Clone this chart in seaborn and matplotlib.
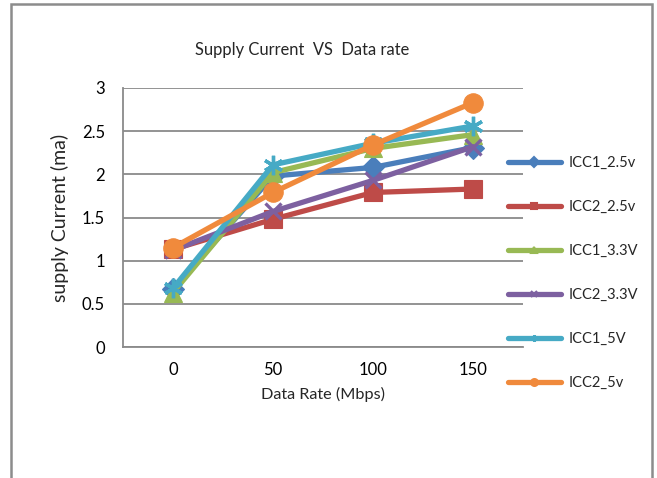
import matplotlib
matplotlib.use("Agg")
import matplotlib.pyplot as plt
import seaborn as sns
import pandas as pd
from matplotlib.lines import Line2D
from matplotlib.patches import Rectangle

# ---- data ----
data_rates = ["0", "50", "100", "150"]
series_names = ["ICC1_2.5v", "ICC2_2.5v", "ICC1_3.3V", "ICC2_3.3V", "ICC1_5V", "ICC2_5v"]
icc1_25 = [0.67, 1.98, 2.08, 2.31]
icc2_25 = [1.13, 1.48, 1.79, 1.83]
icc1_33 = [0.63, 2.02, 2.30, 2.46]
icc2_33 = [1.12, 1.57, 1.93, 2.32]
icc1_5 = [0.68, 2.11, 2.36, 2.56]
icc2_5 = [1.15, 1.79, 2.34, 2.83]
y_ticks = [0, 0.5, 1, 1.5, 2, 2.5, 3]
y_tick_labels = ["0", "0.5", "1", "1.5", "2", "2.5", "3"]

values = [icc1_25, icc2_25, icc1_33, icc2_33, icc1_5, icc2_5]
colors = ["#4A7EBB", "#BE4B48", "#98B954", "#7D60A0", "#46AAC5", "#F08A3C"]
markers = ["D", "s", "^", "x", (6, 2, 0), "o"]
msizes = [11, 13.5, 13, 11, 14, 14]

rows = []
for name, vals in zip(series_names, values):
    for x, v in zip(data_rates, vals):
        rows.append({"rate": x, "current": v, "series": name})
df = pd.DataFrame(rows)

sns.set_theme(style="white")
plt.rcParams["font.family"] = ["Lato", "DejaVu Sans"]

fig = plt.figure(figsize=(6.57, 4.78), dpi=100)
ax = fig.add_axes([123 / 657, 1 - 347 / 478, 400 / 657, 259 / 478])

for name, c, m, ms in zip(series_names, colors, markers, msizes):
    sub = df[df["series"] == name]
    sns.lineplot(data=sub, x="rate", y="current", ax=ax, color=c, marker=m,
                 markersize=ms, markeredgewidth=2.4 if m in ("x", (6, 2, 0)) else 0.8,
                 markeredgecolor=c, linewidth=3.8, sort=False, legend=False,
                 errorbar=None)

ax.set_xlim(-0.5, 3.5)
ax.set_ylim(0, 3)
ax.set_yticks(y_ticks)
ax.set_yticklabels(y_tick_labels)
ax.yaxis.grid(True, color="#8a8a8a", linewidth=1.3)
ax.xaxis.grid(False)
ax.set_axisbelow(True)
for s in ["top", "right"]:
    ax.spines[s].set_visible(False)
for s in ["left", "bottom"]:
    ax.spines[s].set_color("#8a8a8a")
    ax.spines[s].set_linewidth(1.3)
ax.tick_params(axis="both", length=0, labelsize=12, colors="black")
ax.tick_params(axis="y", pad=13)
ax.tick_params(axis="x", pad=11)
ax.set_xlabel("Data Rate (Mbps)", fontsize=11.7, labelpad=6)
ax.set_ylabel("supply Current (ma)", fontsize=14, labelpad=9)

fig.text(302 / 657, 1 - 50 / 478, "Supply Current  VS  Data rate", ha="center",
         va="center", fontsize=11.9)

handles = [Line2D([], [], color=c, marker=m, markersize=5, linewidth=3.8,
                  markeredgewidth=1.5, markeredgecolor=c)
           for c, m in zip(colors, markers)]
fig.legend(handles, series_names, loc="upper left",
           bbox_to_anchor=(508 / 657, 1 - 156 / 478), frameon=False,
           fontsize=10.5, handlelength=3.6, handletextpad=0.55,
           labelspacing=2.06, borderpad=0, borderaxespad=0)

fig.patches.append(Rectangle((11 / 657, -0.05), 641 / 657, 1.05 - 4 / 478,
                             transform=fig.transFigure, fill=False,
                             edgecolor="#8c8c8c", linewidth=1.8, clip_on=False))

fig.savefig("out.png", dpi=100)
